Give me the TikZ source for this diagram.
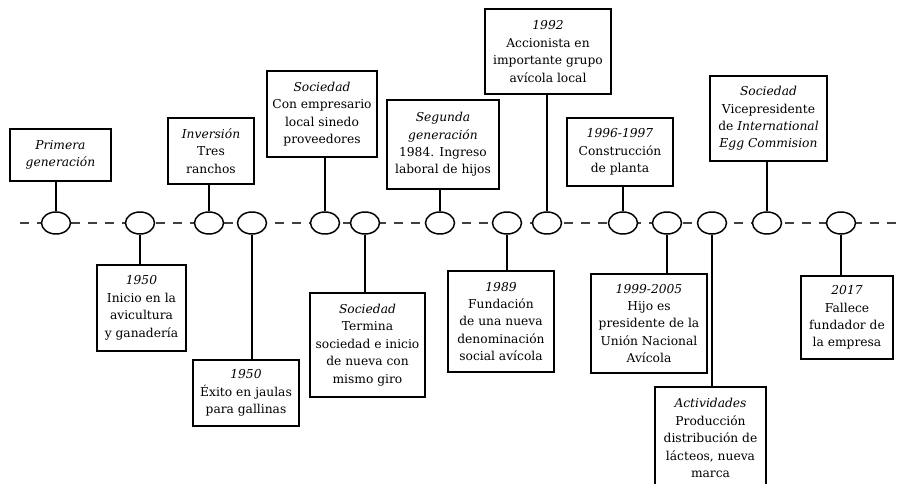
\documentclass[tikz,border=0pt]{standalone}
\usepackage{fontspec}
\setmainfont{DejaVu Serif}
\usetikzlibrary{shapes.geometric}
\begin{document}
\begin{tikzpicture}[x=0.75pt,y=-0.75pt,
  every node/.style={inner sep=0pt},
  evt/.style={draw, line width=1.1pt, fill=white, align=center,
    font=\fontsize{9.2}{13.1}\selectfont},
  dot/.style={draw, line width=1.1pt, fill=white, ellipse,
    minimum width=21.75pt, minimum height=16.5pt},
  stem/.style={line width=1.1pt},
  axis/.style={line width=1pt, draw=black!75, dash pattern=on 6.75pt off 6pt}]
\useasboundingbox (0,0) rectangle (899,484);

% timeline axis
\coordinate (axL) at (20,223);
\coordinate (axR) at (899,223);
\draw[axis] (axL) -- (axR);

% event markers on the axis
\foreach \n/\x in {1/56,2/140,3/209,4/252,5/325,6/365,7/440,8/507,
                   9/547,10/623,11/667,12/712,13/767,14/841}
  \node[dot] (e\n) at (\x,223) {};

% boxes above the axis
\node[evt, minimum width=75.75pt, minimum height=39pt] (b1) at (60.5,155)
  {\textit{Primera}\\\textit{generación}};
\node[evt, minimum width=64.5pt, minimum height=49.5pt] (b2) at (211,151)
  {\textit{Inversión}\\Tres\\ranchos};
\node[evt, minimum width=82.5pt, minimum height=64.5pt] (b3) at (322,114)
  {\textit{Sociedad}\\Con empresario\\local sinedo\\proveedores};
\node[evt, minimum width=84pt, minimum height=66.75pt] (b4) at (443,144.5)
  {\textit{Segunda}\\\textit{generación}\\1984. Ingreso\\laboral de hijos};
\node[evt, minimum width=94.5pt, minimum height=63.75pt] (b5) at (548,51.5)
  {\textit{1992}\\Accionista en\\importante grupo\\avícola local};
\node[evt, minimum width=79.5pt, minimum height=51pt] (b6) at (620,152)
  {\textit{1996-1997}\\Construcción\\de planta};
\node[evt, minimum width=87.75pt, minimum height=63.75pt] (b7) at (768.5,118.5)
  {\textit{Sociedad}\\Vicepresidente\\de \textit{International}\\\textit{Egg Commision}};

% boxes below the axis
\node[evt, minimum width=66.75pt, minimum height=64.5pt] (b8) at (141.5,308)
  {\textit{1950}\\Inicio en la\\avicultura\\y ganadería};
\node[evt, minimum width=79.5pt, minimum height=49.5pt] (b9) at (246,393)
  {\textit{1950}\\Éxito en jaulas\\para gallinas};
\node[evt, minimum width=86.25pt, minimum height=78pt] (b10) at (367.5,345)
  {\textit{Sociedad}\\Termina\\sociedad e inicio\\de nueva con\\mismo giro};
\node[evt, minimum width=79.5pt, minimum height=75.75pt] (b11) at (501,321.5)
  {\textit{1989}\\Fundación\\de una nueva\\denominación\\social avícola};
\node[evt, minimum width=87pt, minimum height=74.25pt] (b12) at (649,323.5)
  {\textit{1999-2005}\\Hijo es\\presidente de la\\Unión Nacional\\Avícola};
\node[evt, minimum width=83.25pt, minimum height=76.5pt] (b13) at (710.5,438)
  {\textit{Actividades}\\Producción\\distribución de\\lácteos, nueva\\marca};
\node[evt, minimum width=69pt, minimum height=62.25pt] (b14) at (847,317.5)
  {\textit{2017}\\Fallece\\fundador de\\la empresa};

% stems joining markers and boxes
\foreach \m/\b in {1/1,3/2,5/3,7/4,9/5,10/6,13/7}
  \draw[stem] (e\m.north) -- (e\m.north |- b\b.south);
\foreach \m/\b in {2/8,4/9,6/10,8/11,11/12,12/13,14/14}
  \draw[stem] (e\m.south) -- (e\m.south |- b\b.north);
\end{tikzpicture}
\end{document}
